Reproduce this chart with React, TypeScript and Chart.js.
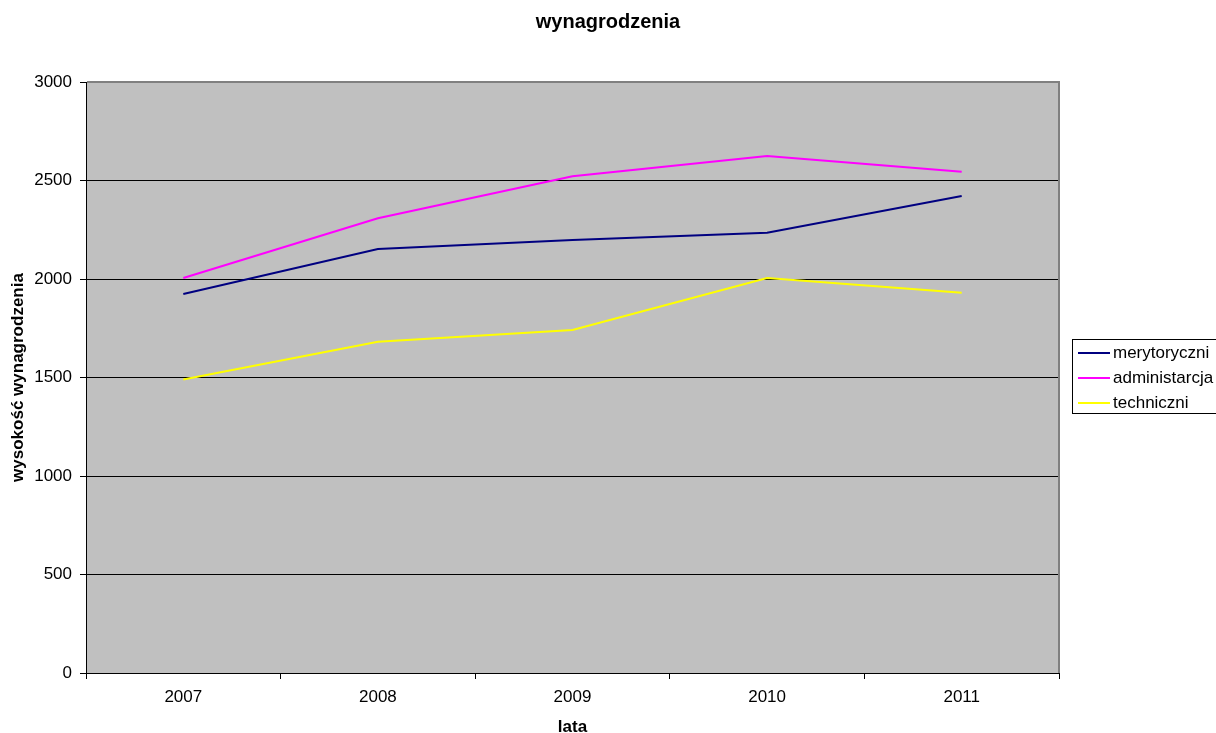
import React, { useEffect, useRef } from "react";
import { Chart, registerables } from "chart.js";

Chart.register(...registerables);

const categories = ["2007", "2008", "2009", "2010", "2011"];
const merytoryczni = [1924, 2152, 2198, 2235, 2421];
const administarcja = [2005, 2308, 2522, 2624, 2545];
const techniczni = [1490, 1682, 1741, 2005, 1930];
const seriesNames = ["merytoryczni", "administarcja", "techniczni"];
const seriesColors = ["#000080", "#FF00FF", "#FFFF00"];
const yTicks = [0, 500, 1000, 1500, 2000, 2500, 3000];
const chartTitle = "wynagrodzenia";
const xTitle = "lata";
const yTitle = "wysokość wynagrodzenia";

const FONT = '"Liberation Sans", Arial, sans-serif';

export default function App() {
  const ref = useRef<HTMLCanvasElement>(null);

  useEffect(() => {
    document.body.style.margin = "0";
    const canvas = ref.current;
    if (!canvas) return;

    const decor = {
      id: "decor",
      beforeDraw(chart: any) {
        const { ctx, chartArea } = chart;
        ctx.save();
        ctx.fillStyle = "#C0C0C0";
        ctx.fillRect(chartArea.left, chartArea.top, chartArea.right - chartArea.left, chartArea.bottom - chartArea.top);
        ctx.restore();
      },
      beforeDatasetsDraw(chart: any) {
        const { ctx, chartArea } = chart;
        ctx.save();
        ctx.strokeStyle = "#808080";
        ctx.lineWidth = 2;
        ctx.beginPath();
        ctx.moveTo(chartArea.left + 1, chartArea.top);
        ctx.lineTo(chartArea.right, chartArea.top);
        ctx.lineTo(chartArea.right, chartArea.bottom);
        ctx.stroke();
        ctx.restore();
      },
      afterDraw(chart: any) {
        const { ctx } = chart;
        ctx.save();
        ctx.fillStyle = "#000";
        ctx.font = `bold 20px ${FONT}`;
        ctx.textAlign = "center";
        ctx.textBaseline = "middle";
        ctx.fillText(chartTitle, 608, 22);
        ctx.strokeStyle = "#000";
        ctx.lineWidth = 1;
        ctx.strokeRect(1072.5, 339.5, 200, 74);
        ctx.font = `17px ${FONT}`;
        ctx.textAlign = "left";
        seriesNames.forEach((name, i) => {
          const y = 353 + i * 25;
          ctx.strokeStyle = seriesColors[i];
          ctx.lineWidth = 2;
          ctx.beginPath();
          ctx.moveTo(1078, y);
          ctx.lineTo(1110, y);
          ctx.stroke();
          ctx.fillStyle = "#000";
          ctx.fillText(name, 1113, y);
        });
        ctx.restore();
      },
    };

    const seriesData = [merytoryczni, administarcja, techniczni];

    const chart = new Chart(canvas, {
      type: "line",
      data: {
        labels: categories,
        datasets: seriesNames.map((name, i) => ({
          label: name,
          data: seriesData[i],
          borderColor: seriesColors[i],
          backgroundColor: seriesColors[i],
          borderWidth: 2,
          pointRadius: 0,
          tension: 0,
        })),
      },
      options: {
        responsive: false,
        animation: false,
        layout: { padding: { top: 82, right: 157, left: 0, bottom: 0 } },
        plugins: {
          legend: { display: false },
          title: { display: false },
          tooltip: { enabled: false },
        },
        scales: {
          x: {
            type: "category",
            offset: true,
            afterFit: (s: any) => { s.height = 60; },
            grid: {
              offset: true,
              drawOnChartArea: false,
              drawTicks: true,
              tickLength: 6,
              color: "#000",
            },
            border: { display: true, color: "#000", width: 1 },
            ticks: { color: "#000", font: { family: FONT, size: 17 }, padding: 8 },
            title: {
              display: true,
              text: xTitle,
              color: "#000",
              font: { family: FONT, size: 17, weight: "bold", lineHeight: 1 },
              padding: { top: 0, bottom: -3 },
            },
          },
          y: {
            type: "linear",
            min: 0,
            max: 3000,
            afterFit: (s: any) => { s.width = 86; },
            afterBuildTicks: (s: any) => { s.ticks = yTicks.map((v) => ({ value: v })); },
            grid: { color: "#000", lineWidth: 1, tickLength: 6, drawTicks: true },
            border: { display: true, color: "#000", width: 1 },
            ticks: {
              color: "#000",
              font: { family: FONT, size: 17 },
              padding: 8,
              callback: (v: any) => String(v),
            },
            title: {
              display: true,
              text: yTitle,
              color: "#000",
              font: { family: FONT, size: 17, weight: "bold", lineHeight: 1 },
              padding: { top: 10, bottom: 0 },
            },
          },
        },
      },
      plugins: [decor],
    });

    return () => chart.destroy();
  }, []);

  return <canvas ref={ref} width={1216} height={733} style={{ display: "block" }} />;
}
